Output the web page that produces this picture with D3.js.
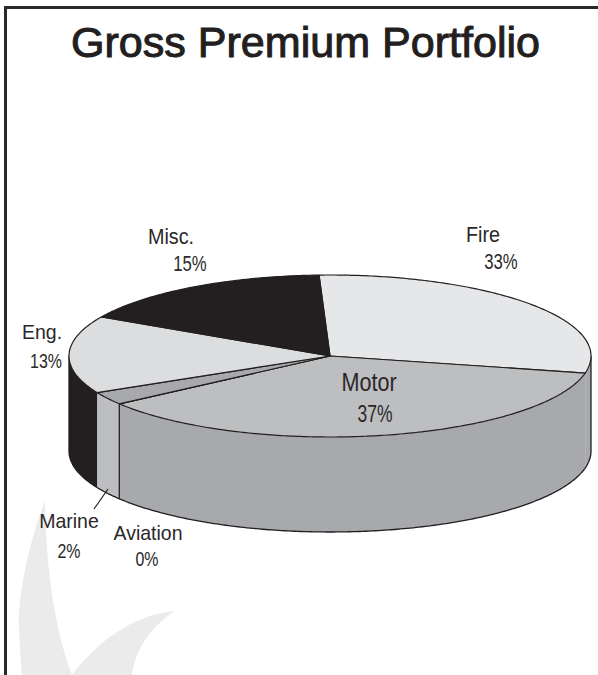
<!DOCTYPE html>
<html>
<head>
<meta charset="utf-8">
<script src="https://cdn.jsdelivr.net/npm/d3@7"></script>
<style>
  html, body { margin: 0; padding: 0; background: #fff; }
  svg { display: block; }
  text { font-family: "Liberation Sans", sans-serif; fill: #2b2829; }
</style>
</head>
<body>
<script>
const categories = ['Fire', 'Motor', 'Aviation', 'Marine', 'Eng.', 'Misc.']
// share of the circle as it is drawn, the printed labels do not quite agree with it
const drawnShares = [29.06, 36.6, 0, 2.6, 15.5, 16.3]
const labels = ['33%', '37%', '0%', '2%', '13%', '15%']
const topColors = ['#e6e7e8', '#bcbec0', '#a7a9ac', '#a7a9ac', '#dcddde', '#231f20']
const wallColors = ['#a7a9ac', '#a7a9ac', '#a7a9ac', '#bcbec0', '#231f20', '#231f20']

const width = 598
const height = 675

const svg = d3.select('body').append('svg')
  .attr('width', width)
  .attr('height', height)

// watermark leaves behind the chart
svg.append('path')
  .attr('fill', '#ebebec')
  .attr('d', 'M45,501 C28,545 17,600 19,630 C20,650 21,665 22,675 L72,675 C55,630 46,570 45,501 Z')
svg.append('path')
  .attr('fill', '#ebebec')
  .attr('d', 'M175,611 C130,615 95,645 72,675 L132,675 C135,650 150,627 175,611 Z')

// frame
svg.append('path')
  .attr('fill', 'none')
  .attr('stroke', '#2b2829')
  .attr('stroke-width', 3)
  .attr('d', 'M5.5,675 V7.5 H598')

svg.append('text')
  .attr('x', 71)
  .attr('y', 57)
  .attr('font-size', 42)
  .attr('stroke', '#231f20')
  .attr('stroke-width', 1)
  .attr('textLength', 469)
  .attr('lengthAdjust', 'spacingAndGlyphs')
  .style('fill', '#231f20')
  .text('Gross Premium Portfolio')

const x = d3.scaleLinear().domain([-1, 1]).range([69, 591])
const y = d3.scaleLinear().domain([-1, 1]).range([275, 437])
const depth = 95

const pie = d3.pie().sort(null).value(d => d).startAngle(-0.042).endAngle(2 * Math.PI - 0.042)
const arcs = pie(drawnShares)

const line = d3.line()

function rim(a0, a1, dy) {
  const n = Math.max(1, Math.ceil((a1 - a0) * 80))
  return d3.range(n + 1).map(i => {
    const a = a0 + (a1 - a0) * i / n
    return [x(Math.sin(a)), y(-Math.cos(a)) + dy]
  })
}

const near0 = Math.PI / 2
const near1 = Math.PI * 1.5

// side walls, only the near half of the pie shows
arcs.forEach((d, i) => {
  const a0 = Math.max(d.startAngle, near0)
  const a1 = Math.min(d.endAngle, near1)
  if (a1 < a0) return
  const pts = rim(a0, a1, 0).concat(rim(a0, a1, depth).reverse())
  svg.append('path')
    .attr('d', line(pts) + 'Z')
    .attr('fill', wallColors[i])
})

// outline of the wall
svg.append('path')
  .attr('d', line(rim(near0, near0, 0).slice(0, 1).concat(rim(near0, near1, depth)).concat(rim(near1, near1, 0).slice(0, 1))))
  .attr('fill', 'none')
  .attr('stroke', '#231f20')
  .attr('stroke-width', 1.3)

// seam on the wall, Motor runs on into Fire without one
arcs.forEach((d, i) => {
  if (i !== 2) return
  const sx = x(Math.sin(d.startAngle))
  const sy = y(-Math.cos(d.startAngle))
  svg.append('path')
    .attr('d', line([[sx, sy], [sx, sy + depth]]))
    .attr('stroke', '#231f20')
    .attr('stroke-width', 1.3)
})

// top slices
arcs.forEach((d, i) => {
  const pts = [[x(0), y(0)]].concat(rim(d.startAngle, d.endAngle, 0))
  svg.append('path')
    .attr('d', line(pts) + 'Z')
    .attr('fill', topColors[i])
    .attr('stroke', '#231f20')
    .attr('stroke-width', 1.2)
    .attr('stroke-linejoin', 'round')
})

// Marine leader
svg.append('line')
  .attr('x1', 108).attr('y1', 489)
  .attr('x2', 94).attr('y2', 509)
  .attr('stroke', '#231f20')
  .attr('stroke-width', 1.2)

const nameX = [483, 369, 148, 69, 42, 171]
const nameY = [242, 391, 540, 528, 339, 244]
const nameSize = [22, 26, 21, 21, 21, 22]
const nameStretch = [0.9, 0.83, 0.93, 0.93, 0.93, 0.9]
const pctX = [501, 375, 147, 69, 46, 190]
const pctY = [269, 422, 566, 558, 368, 271]
const pctSize = [22, 23, 21, 21, 21, 22]

function narrowText(tx, ty, size, sx, str) {
  svg.append('text')
    .attr('transform', `translate(${tx},${ty}) scale(${sx},1)`)
    .attr('text-anchor', 'middle')
    .attr('font-size', size)
    .text(str)
}

categories.forEach((c, i) => {
  narrowText(nameX[i], nameY[i], nameSize[i], nameStretch[i], c)
  narrowText(pctX[i], pctY[i], pctSize[i], 0.76, labels[i])
})
</script>
</body>
</html>
